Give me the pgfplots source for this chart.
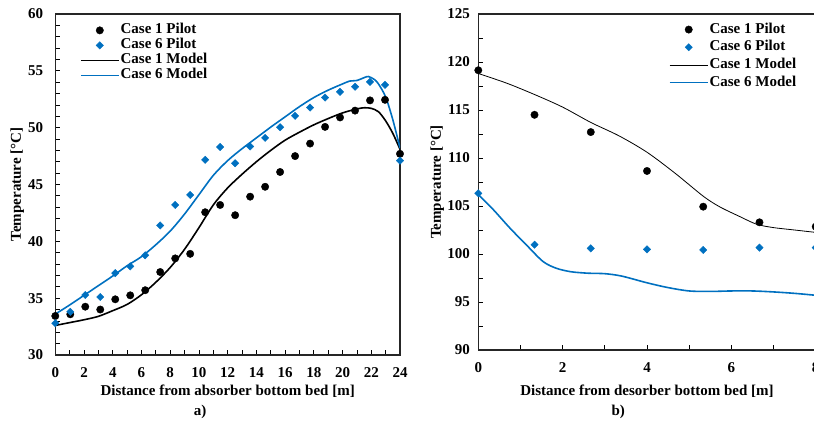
\documentclass[border=0pt]{standalone}
\usepackage{fontspec}
\setmainfont{Liberation Serif}
\usepackage{pgfplots}
\pgfplotsset{compat=1.18}
\definecolor{cblue}{RGB}{0,112,192}
\newcommand{\lbl}{\fontsize{15}{17}\selectfont\bfseries}
\pgfplotsset{
  common/.style={
    scale only axis,
    tick align=inside,
    xtick pos=bottom, ytick pos=left,
    major tick length=5pt, minor tick length=5pt,
    every tick/.style={black, line width=0.8pt},
    axis line style={black!85, line width=1.2pt},
    /pgf/number format/assume math mode=true,
    tick label style={font=\lbl},
    xticklabel style={anchor=center, yshift=-17.7pt, inner sep=0pt},
    yticklabel style={anchor=east, inner sep=0pt},
    label style={font=\lbl},
    xlabel style={anchor=center},
    ylabel style={anchor=center},
    legend cell align=left,
    legend style={draw=none, fill=none, font=\lbl, inner sep=0pt, outer sep=0pt,
      nodes={inner sep=1pt, text height=10pt, text depth=3pt}},
    legend image code/.code={\draw[mark repeat=2,mark phase=2,##1] plot coordinates {(0pt,0pt) (19pt,0pt) (38pt,0pt)};},
  },
  pilot1/.style={only marks, mark=*, mark size=3.7pt, mark options={fill=black, draw=black}},
  pilot6/.style={only marks, mark=square*, mark size=2.6pt, mark options={fill=cblue, draw=cblue, rotate=45}},
}
\begin{document}
\begin{tikzpicture}[x=1pt,y=1pt]
\path[use as bounding box] (0,0) rectangle (814,421);
\begin{axis}[common, at={(55.3pt,66pt)}, anchor=south west,
  width=344.7pt, height=341pt,
  xmin=0, xmax=24, ymin=30, ymax=60,
  xtick distance=2, ytick distance=5, minor x tick num=1, minor y tick num=4,
  yticklabel style={xshift=-12pt},
  xlabel={Distance from absorber bottom bed [m]},
  ylabel={Temperature [°C]},
  xlabel style={at={(axis description cs:0.5,-0.106)}},
  ylabel style={at={(axis description cs:-0.110,0.5)}},
  legend style={at={(axis description cs:0.0717,0.974)}, anchor=north west},
]
\addplot[pilot1] coordinates {
(0,33.43) (1.043,33.58) (2.087,34.25) (3.130,34.0) (4.174,34.9) (5.217,35.25)
(6.261,35.7) (7.304,37.3) (8.348,38.5) (9.391,38.9) (10.435,42.56) (11.478,43.2)
(12.522,42.3) (13.565,43.93) (14.609,44.8) (15.652,46.1) (16.696,47.5) (17.739,48.6)
(18.783,50.07) (19.826,50.9) (20.870,51.5) (21.913,52.4) (22.957,52.45) (24,47.7)};
\addplot[pilot6] coordinates {
(0,32.8) (1.043,33.8) (2.087,35.28) (3.130,35.1) (4.174,37.2) (5.217,37.8)
(6.261,38.77) (7.304,41.4) (8.348,43.2) (9.391,44.08) (10.435,47.17) (11.478,48.3)
(12.522,46.87) (13.565,48.35) (14.609,49.1) (15.652,50.04) (16.696,51.04) (17.739,51.77)
(18.783,52.65) (19.826,53.15) (20.870,53.6) (21.913,54.03) (22.957,53.77) (24,47.1)};
\addplot[black, line width=1.6pt, smooth] coordinates {
(0,32.6) (1,32.85) (2,33.1) (3,33.4) (4,33.9) (5,34.45) (6,35.3) (7,36.4) (8,37.7)
(9,39.3) (10,41.2) (11,43.2) (12,44.7) (13,45.9) (14,47.0) (15,48.0) (16,48.9)
(17,49.6) (18,50.25) (19,50.8) (20,51.3) (21,51.65) (21.5,51.75) (22,51.7) (22.5,51.4)
(23,50.6) (23.5,49.5) (24,48.1)};
\addplot[cblue, line width=1.6pt, smooth] coordinates {
(0,33.6) (1,34.4) (2,35.25) (3,36.1) (4,36.95) (5,37.85) (6,38.65) (7,39.7) (8,40.9)
(9,42.4) (10,44.1) (11,45.8) (12,47.1) (13,48.15) (14,49.1) (15,50.05) (16,50.95)
(17,51.85) (18,52.65) (19,53.3) (20,53.85) (20.5,54.1) (21,54.15) (21.5,54.4) (21.8,54.5)
(22.2,54.25) (22.5,53.85) (23,52.7) (23.5,50.7) (24,48.2)};
\legend{Case 1 Pilot, Case 6 Pilot, Case 1 Model, Case 6 Model}
\end{axis}
\begin{axis}[common, at={(478.3pt,71pt)}, anchor=south west,
  width=337.4pt, height=336pt,
  xmin=0, xmax=8, ymin=90, ymax=125,
  xtick distance=2, ytick distance=5, minor x tick num=1, minor y tick num=1,
  yticklabel style={xshift=-8.3pt},
  xlabel={Distance from desorber bottom bed [m]},
  ylabel={Temperature [°C]},
  xlabel style={at={(axis description cs:0.5,-0.124)}},
  ylabel style={at={(axis description cs:-0.1215,0.5)}},
  legend style={at={(axis description cs:0.565,0.976)}, anchor=north west, row sep=2.7pt},
]
\addplot[pilot1] coordinates {
(0,119.14) (1.333,114.5) (2.667,112.7) (4,108.65) (5.333,104.93) (6.667,103.3) (8,102.85)};
\addplot[pilot6] coordinates {
(0,106.32) (1.333,100.97) (2.667,100.59) (4,100.49) (5.333,100.42) (6.667,100.66) (8,100.66)};
\addplot[black, line width=0.8pt, smooth] coordinates {
(0,118.8) (0.67,117.8) (1.34,116.6) (2,115.3) (2.67,113.7) (3.34,112.3) (4,110.6)
(4.67,108.4) (5.34,106.0) (5.73,104.9) (6.2,103.9) (6.6,103.1) (7.0,102.75) (7.5,102.5) (8,102.25)};
\addplot[cblue, line width=1.6pt, smooth] coordinates {
(0,106.2) (0.36,104.6) (0.75,102.7) (1.15,100.9) (1.54,99.2) (1.86,98.5) (2.2,98.15)
(2.6,98.0) (3.0,97.95) (3.4,97.7) (4.0,97.0) (4.5,96.5) (5,96.15) (5.5,96.1) (6,96.15)
(6.5,96.15) (7,96.05) (7.5,95.9) (8,95.7)};
\legend{Case 1 Pilot, Case 6 Pilot, Case 1 Model, Case 6 Model}
\end{axis}
\node[font=\lbl] at (200,9.3) {a)};
\node[font=\lbl] at (618.3,9.3) {b)};
\end{tikzpicture}
\end{document}
